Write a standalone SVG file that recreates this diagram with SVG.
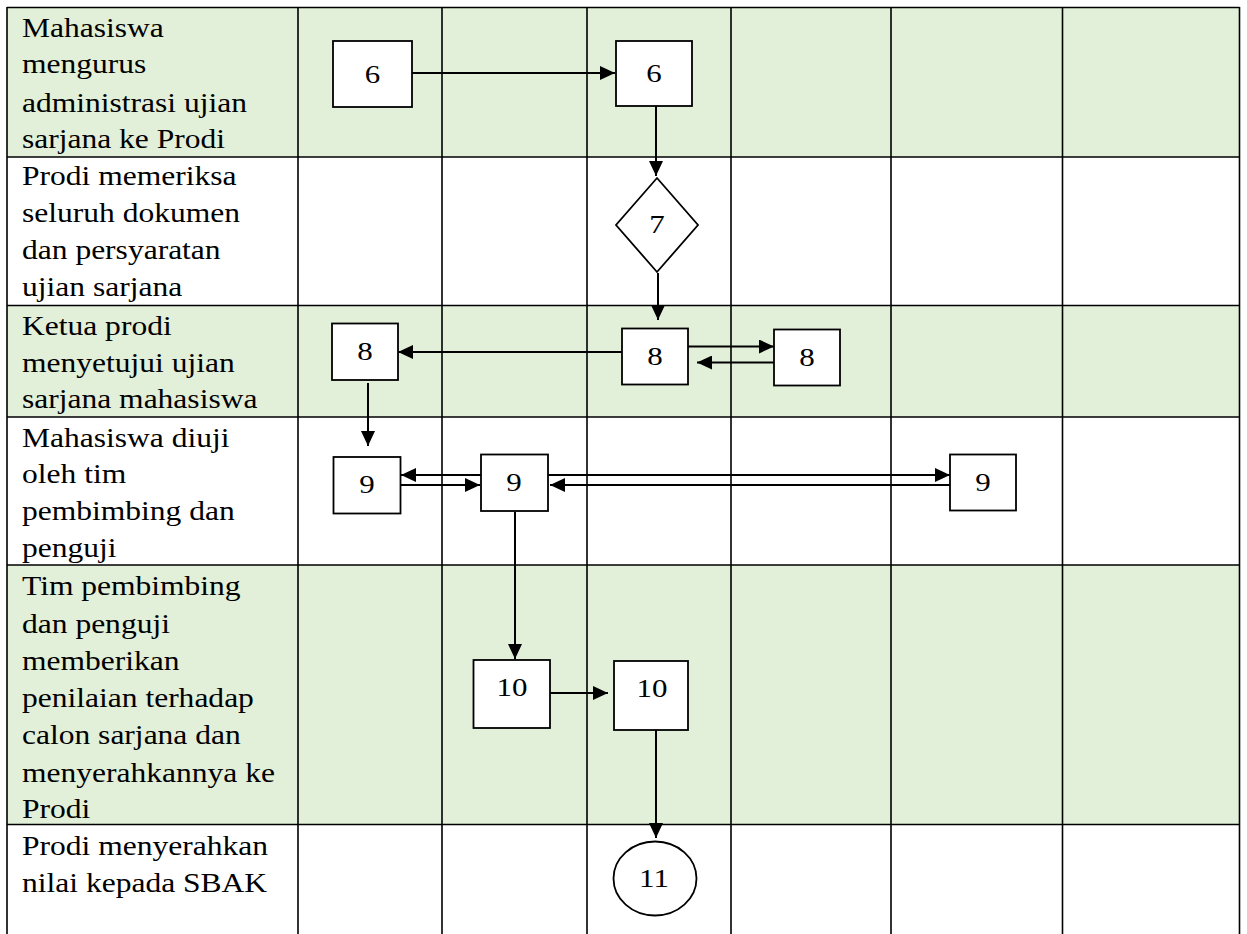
<svg xmlns="http://www.w3.org/2000/svg" width="1247" height="934" viewBox="0 0 1247 934">
  <style>
    .band { fill: #E2EFD9; }
    .grid { stroke: #000; stroke-width: 1.6; fill: none; }
    .lbl { font-family: "Liberation Serif", "Times New Roman", serif; font-size: 26.5px; fill: #000; }
    .num { font-family: "Liberation Serif", "Times New Roman", serif; font-size: 26px; fill: #000; text-anchor: middle; }
    .box { fill: #fff; stroke: #000; stroke-width: 1.8; }
    .conn { stroke: #000; stroke-width: 2; fill: none; marker-end: url(#arr); }
  </style>
  <defs>
    <marker id="arr" markerUnits="userSpaceOnUse" markerWidth="15" markerHeight="14" refX="15" refY="7" orient="auto">
      <path d="M0,0 L15,7 L0,14 z" fill="#000"/>
    </marker>
  </defs>

  <rect width="1247" height="934" fill="#fff"/>

  <g id="table">
    <rect class="band" x="7" y="7.5" width="1232.5" height="149.5"/>
    <rect class="band" x="7" y="305.5" width="1232.5" height="111.5"/>
    <rect class="band" x="7" y="565" width="1232.5" height="259.5"/>
    <path class="grid" d="M7,7.5 H1239.5 M7,157 H1239.5 M7,305.5 H1239.5 M7,417 H1239.5 M7,565 H1239.5 M7,824.5 H1239.5"/>
    <path class="grid" d="M7,7 V934 M298,7 V934 M442,7 V934 M587,7 V934 M731,7 V934 M891,7 V934 M1062.5,7 V934 M1239.5,7 V934"/>
  </g>

  <g id="row-labels">
    <text class="lbl" transform="scale(1.19 1)">
      <tspan x="18.49" y="37">Mahasiswa</tspan>
      <tspan x="18.49" y="73">mengurus</tspan>
      <tspan x="18.49" y="112">administrasi ujian</tspan>
      <tspan x="18.49" y="148">sarjana ke Prodi</tspan>
    </text>
    <text class="lbl" transform="scale(1.19 1)">
      <tspan x="18.49" y="185">Prodi memeriksa</tspan>
      <tspan x="18.49" y="222">seluruh dokumen</tspan>
      <tspan x="18.49" y="259">dan persyaratan</tspan>
      <tspan x="18.49" y="296">ujian sarjana</tspan>
    </text>
    <text class="lbl" transform="scale(1.19 1)">
      <tspan x="18.49" y="335">Ketua prodi</tspan>
      <tspan x="18.49" y="372">menyetujui ujian</tspan>
      <tspan x="18.49" y="408">sarjana mahasiswa</tspan>
    </text>
    <text class="lbl" transform="scale(1.19 1)">
      <tspan x="18.49" y="447">Mahasiswa diuji</tspan>
      <tspan x="18.49" y="483">oleh tim</tspan>
      <tspan x="18.49" y="520">pembimbing dan</tspan>
      <tspan x="18.49" y="557">penguji</tspan>
    </text>
    <text class="lbl" transform="scale(1.19 1)">
      <tspan x="18.49" y="595">Tim pembimbing</tspan>
      <tspan x="18.49" y="633">dan penguji</tspan>
      <tspan x="18.49" y="670">memberikan</tspan>
      <tspan x="18.49" y="707">penilaian terhadap</tspan>
      <tspan x="18.49" y="744">calon sarjana dan</tspan>
      <tspan x="18.49" y="782">menyerahkannya ke</tspan>
      <tspan x="18.49" y="818">Prodi</tspan>
    </text>
    <text class="lbl" transform="scale(1.19 1)">
      <tspan x="18.49" y="855">Prodi menyerahkan</tspan>
      <tspan x="18.49" y="892">nilai kepada SBAK</tspan>
    </text>
  </g>

  <g id="connectors">
    <path class="conn" d="M412,73 H615"/>
    <path class="conn" d="M656,106 V176"/>
    <path class="conn" d="M658,273 V320"/>
    <path class="conn" d="M622,352 H398"/>
    <path class="conn" d="M688,346.5 H774"/>
    <path class="conn" d="M774,362.5 H697"/>
    <path class="conn" d="M368,383 V446"/>
    <path class="conn" d="M481,475 H401"/>
    <path class="conn" d="M401,485 H480"/>
    <path class="conn" d="M548,475 H950"/>
    <path class="conn" d="M950,485 H550"/>
    <path class="conn" d="M515,512 V659"/>
    <path class="conn" d="M550,693 H608"/>
    <path class="conn" d="M656,730 V838"/>
  </g>

  <g id="n6a"><rect class="box" x="333" y="41" width="79" height="66"/><text class="num" transform="translate(372.5,82.5) scale(1.19 1)">6</text></g>
  <g id="n6b"><rect class="box" x="616" y="41" width="76" height="65"/><text class="num" transform="translate(654,82) scale(1.19 1)">6</text></g>
  <g id="n7"><polygon class="box" points="657,178 698,225 657,272 616,225"/><text class="num" transform="translate(657,233) scale(1.19 1)">7</text></g>
  <g id="n8a"><rect class="box" x="332" y="323.5" width="66" height="56.5"/><text class="num" transform="translate(365,360) scale(1.19 1)">8</text></g>
  <g id="n8b"><rect class="box" x="622" y="328.5" width="66" height="56"/><text class="num" transform="translate(655,365) scale(1.19 1)">8</text></g>
  <g id="n8c"><rect class="box" x="774" y="329.5" width="66" height="56"/><text class="num" transform="translate(807,366) scale(1.19 1)">8</text></g>
  <g id="n9a"><rect class="box" x="333.5" y="457" width="67" height="56.5"/><text class="num" transform="translate(367,493) scale(1.19 1)">9</text></g>
  <g id="n9b"><rect class="box" x="481" y="454.5" width="67" height="56.5"/><text class="num" transform="translate(514,491) scale(1.19 1)">9</text></g>
  <g id="n9c"><rect class="box" x="950" y="454.5" width="66" height="56"/><text class="num" transform="translate(983,491) scale(1.19 1)">9</text></g>
  <g id="n10a"><rect class="box" x="473.5" y="660" width="76.5" height="68"/><text class="num" transform="translate(512,696) scale(1.19 1)">10</text></g>
  <g id="n10b"><rect class="box" x="614" y="661" width="74" height="69"/><text class="num" transform="translate(652,697) scale(1.19 1)">10</text></g>
  <g id="n11"><ellipse class="box" cx="655" cy="878.5" rx="41.5" ry="37"/><text class="num" transform="translate(654,887) scale(1.19 1)">11</text></g>
</svg>
